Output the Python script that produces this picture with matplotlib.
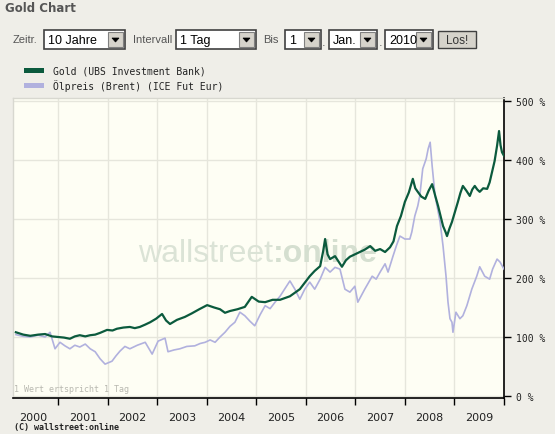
import matplotlib
matplotlib.use("Agg")
import matplotlib.pyplot as plt
from matplotlib.patches import Rectangle, Polygon

# ---------------- data (decimal years, % of start value) ----------------
gold_t = [2000.15, 2000.30, 2000.44, 2000.60, 2000.74, 2000.88, 2001.00, 2001.12, 2001.24, 2001.34,
          2001.44, 2001.55, 2001.65, 2001.75, 2001.85, 2001.99, 2002.10, 2002.19, 2002.32, 2002.45,
          2002.55, 2002.65, 2002.76, 2002.86, 2002.98, 2003.10, 2003.18, 2003.26, 2003.40, 2003.56,
          2003.70, 2003.85, 2004.01, 2004.15, 2004.27, 2004.37, 2004.47, 2004.62, 2004.77, 2004.91,
          2005.05, 2005.18, 2005.33, 2005.48, 2005.58, 2005.68, 2005.78, 2005.88, 2005.98, 2006.08,
          2006.18, 2006.29, 2006.35, 2006.39, 2006.44, 2006.49, 2006.59, 2006.66, 2006.73, 2006.81,
          2006.89, 2006.99, 2007.09, 2007.19, 2007.30, 2007.40, 2007.50, 2007.60, 2007.70, 2007.77,
          2007.84, 2007.92, 2008.00, 2008.08, 2008.16, 2008.21, 2008.26, 2008.33, 2008.41, 2008.48,
          2008.55, 2008.61, 2008.67, 2008.72, 2008.77, 2008.82, 2008.85, 2008.90, 2008.95, 2009.01,
          2009.07, 2009.12, 2009.17, 2009.24, 2009.31, 2009.36, 2009.41, 2009.46, 2009.51, 2009.58,
          2009.66, 2009.71, 2009.76, 2009.81, 2009.86, 2009.90, 2009.93, 2009.96, 2010.00]
gold_v = [108, 104, 102, 104, 105, 101, 100, 99, 97, 101,
          103, 101, 103, 104, 107, 112, 111, 114, 116, 117,
          115, 117, 121, 125, 131, 139, 128, 122, 129, 134,
          140, 147, 154, 150, 147, 141, 144, 147, 151, 168,
          160, 159, 163, 163, 166, 169, 175, 181, 192, 203,
          212, 220, 245, 266, 240, 232, 237, 228, 219, 230,
          236, 240, 244, 248, 254, 246, 249, 244, 252, 262,
          288, 305, 329, 345, 368, 352, 346, 338, 334, 348,
          359, 340, 322, 305, 288, 278, 271, 284, 295, 312,
          329, 344, 356, 348, 339, 350, 356, 350, 346, 352,
          351, 362, 380, 398, 424, 449, 425, 413, 407]

brent_t = [2000.15, 2000.30, 2000.44, 2000.60, 2000.74, 2000.84, 2000.94, 2001.04, 2001.14, 2001.24,
           2001.34, 2001.44, 2001.55, 2001.65, 2001.75, 2001.85, 2001.95, 2002.09, 2002.17, 2002.25,
           2002.35, 2002.45, 2002.60, 2002.76, 2002.90, 2003.02, 2003.16, 2003.22, 2003.34, 2003.46,
           2003.60, 2003.76, 2003.87, 2003.97, 2004.07, 2004.17, 2004.27, 2004.37, 2004.47, 2004.57,
           2004.67, 2004.77, 2004.87, 2004.97, 2005.08, 2005.18, 2005.28, 2005.38, 2005.48, 2005.58,
           2005.68, 2005.78, 2005.88, 2005.98, 2006.08, 2006.18, 2006.29, 2006.39, 2006.49, 2006.59,
           2006.69, 2006.79, 2006.89, 2006.99, 2007.05, 2007.12, 2007.19, 2007.34, 2007.42, 2007.50,
           2007.60, 2007.66, 2007.76, 2007.83, 2007.90, 2008.00, 2008.10, 2008.14, 2008.20, 2008.26,
           2008.30, 2008.36, 2008.43, 2008.47, 2008.51, 2008.55, 2008.61, 2008.71, 2008.77, 2008.83,
           2008.87, 2008.91, 2008.95, 2008.97, 2009.03, 2009.11, 2009.17, 2009.25, 2009.35, 2009.45,
           2009.51, 2009.61, 2009.71, 2009.77, 2009.86, 2009.92, 2010.00]
brent_v = [104, 101, 100, 103, 100, 108, 80, 91, 85, 80,
           86, 83, 88, 80, 75, 63, 54, 59, 68, 76,
           84, 80, 86, 91, 71, 93, 98, 75, 78, 80,
           84, 85, 89, 91, 95, 91, 100, 108, 118, 125,
           142, 136, 127, 119, 138, 153, 148, 159, 169, 182,
           195, 181, 164, 181, 193, 181, 198, 218, 210, 218,
           215, 181, 176, 186, 159, 170, 181, 203, 198, 210,
           224, 210, 237, 255, 271, 266, 266, 278, 305, 322,
           339, 385, 402, 419, 430, 390, 339, 295, 254, 203,
           159, 131, 125, 108, 142, 131, 136, 153, 181, 203,
           219, 203, 198, 215, 232, 227, 215]

y_ticks = [0, 100, 200, 300, 400, 500]
y_tick_labels = ["0 %", "100 %", "200 %", "300 %", "400 %", "500 %"]
year_labels = ["2000", "2001", "2002", "2003", "2004", "2005", "2006", "2007", "2008", "2009"]
series_names = ["Gold (UBS Investment Bank)", "\u00d6lpreis (Brent) (ICE Fut Eur)"]

# ---------------- style ----------------
W, H = 555, 435
BG = "#efeee8"
PLOT_BG = "#fefef4"
GOLD_C = "#0b5a3d"
BRENT_C = "#b1b1de"
GRID_C = "#e6e6dc"
MONO = "DejaVu Sans Mono"
SANS = "Liberation Sans"

fig = plt.figure(figsize=(W / 100, H / 100), dpi=100, facecolor=BG)


def fx(x):
    return x / W


def fy(y):
    return 1 - y / H


# ---------------- header / controls ----------------
fig.text(fx(5), fy(9), "Gold Chart", fontsize=8.5, fontweight="bold", color="#555555",
         va="center", ha="left")


def combo(x0, x1, label):
    y0, y1 = 31, 50
    fig.patches.append(Rectangle((fx(x0), fy(y1)), fx(x1 - x0), (y1 - y0) / H,
                                 transform=fig.transFigure, facecolor="white",
                                 edgecolor="#404040", linewidth=1.2))
    bx0 = x1 - 17
    fig.patches.append(Rectangle((fx(bx0), fy(y1 - 2)), fx(15), (y1 - y0 - 4) / H,
                                 transform=fig.transFigure, facecolor="#d6d3cb",
                                 edgecolor="#808080", linewidth=0.8))
    cx = bx0 + 7.5
    fig.patches.append(Polygon([(fx(cx - 3.5), fy(39)), (fx(cx + 3.5), fy(39)), (fx(cx), fy(43))],
                               closed=True, transform=fig.transFigure, facecolor="black",
                               edgecolor="black", linewidth=0.5))
    fig.text(fx(x0 + 4), fy(41), label, fontsize=9, family=SANS, color="black",
             va="center", ha="left")


def label(x, text):
    fig.text(fx(x), fy(40), text, fontsize=8, family=SANS, color="#555555",
             va="center", ha="left")


label(13, "Zeitr.")
combo(44, 125, "10 Jahre")
label(133, "Intervall")
combo(176, 256, "1 Tag")
label(263, "Bis")
combo(285, 321, "1")
fig.text(fx(324), fy(43), ".", fontsize=8, color="#555555", va="center", ha="center")
combo(329, 377, "Jan.")
fig.text(fx(381), fy(43), ".", fontsize=8, color="#555555", va="center", ha="center")
combo(385, 433, "2010")
fig.patches.append(Rectangle((fx(438), fy(49)), fx(38), 17 / H, transform=fig.transFigure,
                             facecolor="#d6d3cb", edgecolor="#404040", linewidth=1.0))
fig.text(fx(457), fy(41), "Los!", fontsize=8.5, family=SANS, color="#333333",
         va="center", ha="center")

# legend
fig.patches.append(Rectangle((fx(24), fy(74)), fx(20), 5 / H, transform=fig.transFigure,
                             facecolor=GOLD_C, edgecolor="none"))
fig.patches.append(Rectangle((fx(24), fy(89)), fx(20), 5 / H, transform=fig.transFigure,
                             facecolor=BRENT_C, edgecolor="none"))
fig.text(fx(53), fy(71.5), series_names[0], fontsize=7, family=MONO, color="#222222",
         va="center", ha="left")
fig.text(fx(53), fy(86.5), series_names[1], fontsize=7, family=MONO, color="#222222",
         va="center", ha="left")

# ---------------- plot ----------------
x_left, x_right, y_top, y_bot = 13, 504, 99, 399
ax = fig.add_axes([fx(x_left), fy(y_bot), fx(x_right - x_left), (y_bot - y_top) / H])
ax.set_facecolor(PLOT_BG)
ax.set_xlim(2000.092, 2010.0)
ax.set_ylim(-3.4, 505)

# watermark
ax.text(2005.34, 229, "wallstreet", transform=ax.transData, fontsize=23, family=SANS,
        color="#dbe3d6", ha="right", va="baseline", zorder=1)
ax.text(2005.34, 229, ":online", transform=ax.transData, fontsize=23, family=SANS,
        color="#d5dfd0", fontweight="bold", ha="left", va="baseline", zorder=1)

ax.plot(brent_t, brent_v, color=BRENT_C, linewidth=1.2, zorder=3)
ax.plot(gold_t, gold_v, color=GOLD_C, linewidth=1.6, zorder=4)

years = list(range(2001, 2011))
ax.set_xticks(years)
ax.set_xticklabels([])
ax.set_xticks([y + 0.5 for y in range(2000, 2010)], minor=True)
ax.set_xticklabels(year_labels, minor=True, fontsize=8, color="#222222")
ax.tick_params(axis="x", which="major", direction="out", length=5, width=1, color="black")
ax.tick_params(axis="x", which="minor", length=0, pad=10)

ax.yaxis.tick_right()
ax.set_yticks(y_ticks)
ax.set_yticklabels(y_tick_labels, family=MONO, fontsize=7, color="#222222")
ax.tick_params(axis="y", direction="out", length=5, width=1, color="black", pad=4)

ax.grid(True, which="major", color=GRID_C, linewidth=1.0, zorder=0)
ax.set_axisbelow(True)

for side in ("left", "top"):
    ax.spines[side].set_color("#d8d8d0")
    ax.spines[side].set_linewidth(1.0)
for side in ("right", "bottom"):
    ax.spines[side].set_color("black")
    ax.spines[side].set_linewidth(1.2)

ax.text(0.003, 0.015, "1 Wert ertspricht 1 Tag", transform=ax.transAxes, fontsize=6,
        family=MONO, color="#b8b8b0", ha="left", va="bottom")

fig.text(fx(14), fy(428), "(C) wallstreet:online", fontsize=6, family=MONO,
         fontweight="bold", color="#222222", va="center", ha="left")

fig.savefig("out.png", dpi=100, facecolor=BG)
